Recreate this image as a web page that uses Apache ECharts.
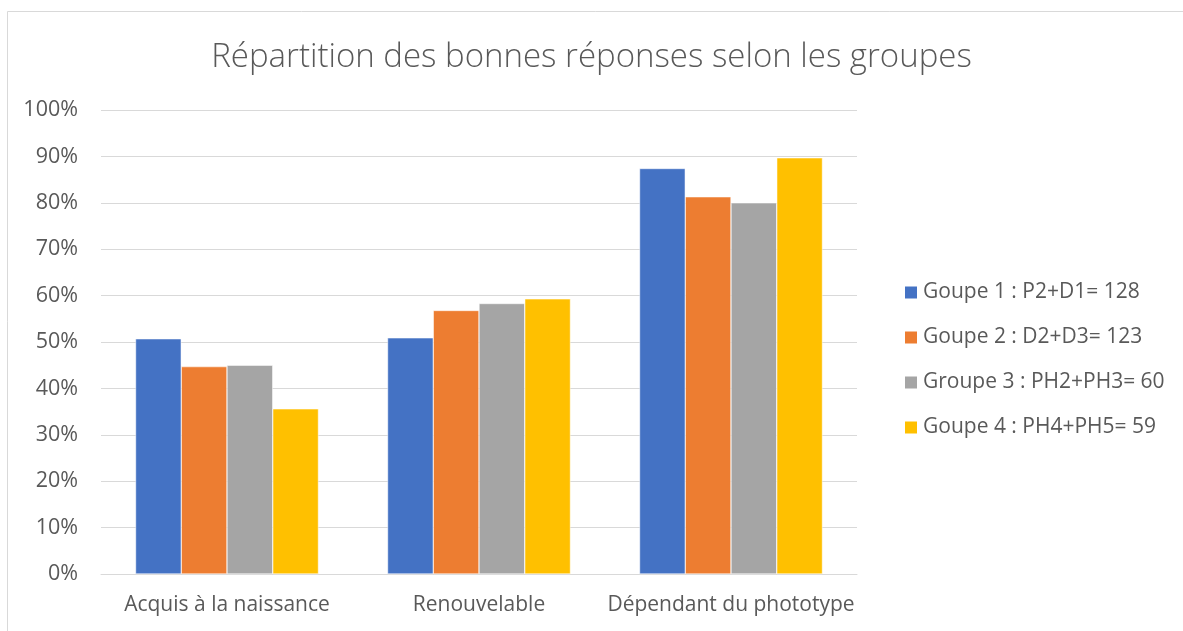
<!DOCTYPE html>
<html>
<head>
<meta charset="utf-8">
<script src="https://cdn.jsdelivr.net/npm/echarts@6/dist/echarts.min.js"></script>
<style>
html,body{margin:0;padding:0;background:#fff;}
#chart{width:1183px;height:631px;}
</style>
</head>
<body>
<div id="chart"></div>
<script>
const categories = ['Acquis à la naissance', 'Renouvelable', 'Dépendant du phototype'];
const seriesNames = ['Goupe 1 : P2+D1= 128', 'Goupe 2 : D2+D3= 123', 'Groupe 3 : PH2+PH3= 60', 'Goupe 4 : PH4+PH5= 59'];
const group1 = [0.507, 0.509, 0.874];
const group2 = [0.447, 0.568, 0.813];
const group3 = [0.450, 0.583, 0.800];
const group4 = [0.356, 0.593, 0.897];
const colors = ['#4472C4', '#ED7D31', '#A5A5A5', '#FFC000'];
const titleText = 'Répartition des bonnes réponses selon les groupes';

const FONT = 'Open Sans';
const TXT = '#595959';
const values = [group1, group2, group3, group4];

const chart = echarts.init(document.getElementById('chart'), null, {renderer: 'canvas'});
chart.setOption({
  animation: false,
  backgroundColor: '#fff',
  color: colors,
  title: {
    text: titleText,
    left: 'center',
    top: 36,
    textStyle: {fontFamily: FONT, fontWeight: 300, fontSize: 33, color: TXT}
  },
  graphic: [{
    type: 'rect',
    shape: {x: 7.5, y: 11.5, width: 1300, height: 800},
    style: {fill: 'none', stroke: '#d9d9d9', lineWidth: 1},
    silent: true
  }],
  legend: {
    orient: 'vertical',
    left: 898,
    top: 277,
    itemWidth: 14,
    itemHeight: 14,
    itemGap: 24,
    icon: 'rect',
    textStyle: {fontFamily: FONT, fontSize: 21, color: TXT},
    data: seriesNames
  },
  grid: {left: 101, right: 326, top: 110, bottom: 57, containLabel: false},
  xAxis: {
    type: 'category',
    data: categories,
    axisLine: {lineStyle: {color: '#d9d9d9', width: 1}},
    axisTick: {show: false},
    axisLabel: {fontFamily: FONT, fontSize: 21, color: TXT, margin: 21, interval: 0}
  },
  yAxis: {
    type: 'value',
    min: 0,
    max: 1,
    interval: 0.1,
    axisLine: {show: false},
    axisTick: {show: false},
    splitLine: {lineStyle: {color: '#d9d9d9', width: 1}},
    axisLabel: {
      fontFamily: FONT, fontSize: 21.5, color: TXT, margin: 23,
      formatter: v => Math.round(v * 100) + '%'
    }
  },
  series: seriesNames.map((name, i) => ({
    name: name,
    type: 'bar',
    data: values[i],
    barGap: '0%',
    barCategoryGap: '27.4%',
    itemStyle: {color: colors[i], borderColor: '#fff', borderWidth: 0.5}
  }))
});
</script>
</body>
</html>
